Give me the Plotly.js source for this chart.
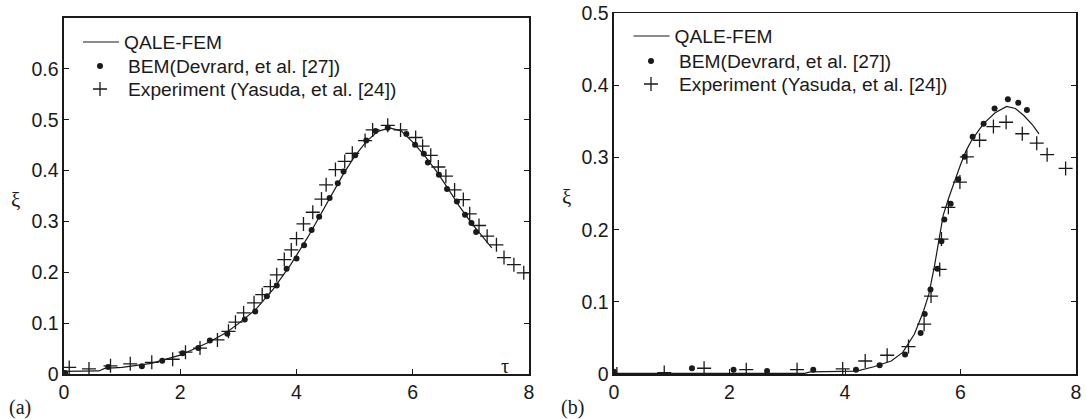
<!DOCTYPE html>
<html>
<head>
<meta charset="utf-8">
<script src="https://cdn.plot.ly/plotly-3.0.1.min.js"></script>
<style>
  html, body { margin: 0; padding: 0; background: #fff; }
  #plot { width: 1086px; height: 419px; }
</style>
</head>
<body>
<div id="plot"></div>
<script>
// ---- Panel (a): free-surface elevation xi versus tau ----
const aFemT = [0, 0.6, 0.7, 1.0, 1.5, 2.0, 2.5, 2.8, 3.0, 3.3, 3.6, 3.9, 4.2, 4.5, 4.8, 5.0, 5.2, 5.4, 5.6, 5.8, 6.0, 6.2, 6.4, 6.6, 6.8, 7.0, 7.2, 7.36];
const aFemXi = [0.005, 0.006, 0.011, 0.013, 0.021, 0.037, 0.063, 0.082, 0.099, 0.127, 0.167, 0.215, 0.270, 0.330, 0.392, 0.428, 0.457, 0.477, 0.484, 0.478, 0.456, 0.430, 0.400, 0.366, 0.330, 0.298, 0.270, 0.248];

const aBemT = [0.02, 0.76, 1.34, 1.69, 2.04, 2.31, 2.51, 2.81, 3.11, 3.29, 3.49, 3.66, 3.83, 4.00, 4.13, 4.26, 4.39, 4.57, 4.71, 4.81, 5.01, 5.20, 5.36, 5.57, 5.89, 6.04, 6.19, 6.26, 6.45, 6.59, 6.76, 6.90, 7.01, 7.09];
const aBemXi = [0.002, 0.014, 0.015, 0.026, 0.041, 0.051, 0.066, 0.079, 0.107, 0.123, 0.153, 0.174, 0.207, 0.227, 0.253, 0.283, 0.309, 0.346, 0.375, 0.398, 0.430, 0.459, 0.478, 0.484, 0.472, 0.451, 0.433, 0.416, 0.392, 0.364, 0.339, 0.313, 0.297, 0.279];

const aExpT = [0.09, 0.43, 0.80, 1.14, 1.51, 1.87, 2.09, 2.34, 2.64, 2.83, 2.95, 3.09, 3.27, 3.41, 3.55, 3.66, 3.79, 3.91, 4.00, 4.12, 4.28, 4.43, 4.51, 4.67, 4.83, 4.96, 5.18, 5.31, 5.57, 5.79, 6.05, 6.17, 6.31, 6.44, 6.57, 6.72, 6.87, 6.98, 7.14, 7.28, 7.44, 7.57, 7.74, 7.91];
const aExpXi = [0.013, 0.010, 0.016, 0.020, 0.023, 0.029, 0.043, 0.051, 0.067, 0.084, 0.102, 0.120, 0.140, 0.156, 0.172, 0.195, 0.225, 0.244, 0.266, 0.295, 0.318, 0.344, 0.372, 0.402, 0.418, 0.434, 0.459, 0.480, 0.489, 0.480, 0.465, 0.448, 0.430, 0.407, 0.389, 0.362, 0.343, 0.315, 0.292, 0.271, 0.254, 0.229, 0.215, 0.199];

// ---- Panel (b) ----
const bFemT = [0, 1.0, 2.0, 3.3, 3.4, 4.2, 4.5, 4.8, 5.0, 5.2, 5.35, 5.45, 5.55, 5.63, 5.7, 5.8, 5.9, 6.0, 6.1, 6.2, 6.4, 6.6, 6.8, 6.95, 7.1, 7.25, 7.36];
const bFemXi = [0.001, 0.001, 0.001, 0.001, 0.003, 0.004, 0.010, 0.018, 0.030, 0.055, 0.085, 0.110, 0.150, 0.190, 0.220, 0.245, 0.268, 0.290, 0.310, 0.325, 0.347, 0.362, 0.371, 0.368, 0.358, 0.345, 0.333];

const bBemT = [0.0, 1.35, 2.07, 2.65, 3.45, 4.19, 4.60, 5.04, 5.31, 5.38, 5.48, 5.60, 5.67, 5.72, 5.83, 5.96, 6.07, 6.21, 6.40, 6.59, 6.82, 7.00, 7.15];
const bBemXi = [0.003, 0.008, 0.006, 0.004, 0.006, 0.006, 0.012, 0.027, 0.057, 0.083, 0.117, 0.146, 0.184, 0.214, 0.236, 0.270, 0.301, 0.329, 0.347, 0.368, 0.381, 0.376, 0.366];

const bExpT = [0.05, 0.87, 1.56, 2.29, 3.17, 3.96, 4.35, 4.73, 5.10, 5.37, 5.49, 5.64, 5.67, 5.79, 5.99, 6.11, 6.33, 6.57, 6.79, 7.07, 7.32, 7.50, 7.82];
const bExpXi = [0.0, 0.002, 0.008, 0.006, 0.006, 0.007, 0.018, 0.026, 0.038, 0.069, 0.108, 0.145, 0.187, 0.231, 0.266, 0.301, 0.324, 0.343, 0.349, 0.333, 0.320, 0.304, 0.285];

// ---- Axis ticks and labels ----
const tauTicks = [0, 2, 4, 6, 8];
const tauLabels = ['0', '2', '4', '6', '8'];
const xiTicksA = [0, 0.1, 0.2, 0.3, 0.4, 0.5, 0.6];
const xiLabelsA = ['0', '0.1', '0.2', '0.3', '0.4', '0.5', '0.6'];
const xiTicksB = [0, 0.1, 0.2, 0.3, 0.4, 0.5];
const xiLabelsB = ['0', '0.1', '0.2', '0.3', '0.4', '0.5'];

const seriesNames = ['QALE-FEM', 'BEM(Devrard, et al. [27])', 'Experiment (Yasuda, et al. [24])'];

const ink = '#1a1a1a';
const sans = 'Liberation Sans, Arial, sans-serif';
const serif = 'Liberation Serif, Times New Roman, serif';

function femTrace(x, y, xa, ya, lg) {
  return { x, y, xaxis: xa, yaxis: ya, type: 'scatter', mode: 'lines',
    name: seriesNames[0], legend: lg, line: { color: ink, width: 1.2 } };
}
function bemTrace(x, y, xa, ya, lg) {
  return { x, y, xaxis: xa, yaxis: ya, type: 'scatter', mode: 'markers',
    name: seriesNames[1], legend: lg, marker: { color: ink, size: 6, symbol: 'circle' } };
}
function expTrace(x, y, xa, ya, lg) {
  return { x, y, xaxis: xa, yaxis: ya, type: 'scatter', mode: 'markers',
    name: seriesNames[2], legend: lg,
    marker: { symbol: 'cross-thin-open', size: 10, color: ink, line: { color: ink, width: 1.3 } } };
}

const data = [
  femTrace(aFemT, aFemXi, 'x', 'y', 'legend'),
  bemTrace(aBemT, aBemXi, 'x', 'y', 'legend2'),
  expTrace(aExpT, aExpXi, 'x', 'y', 'legend3'),
  femTrace(bFemT, bFemXi, 'x2', 'y2', 'legend4'),
  bemTrace(bBemT, bBemXi, 'x2', 'y2', 'legend5'),
  expTrace(bExpT, bExpXi, 'x2', 'y2', 'legend6')
];

const W = 1086, H = 419;
function px(v) { return v / W; }
function py(v) { return 1 - v / H; }

function legendBox(left, rowY, itemW) {
  return { x: px(left), y: py(rowY), xanchor: 'left', yanchor: 'middle',
    bgcolor: 'rgba(0,0,0,0)', borderwidth: 0, itemwidth: itemW,
    font: { family: sans, size: 19.2, color: ink } };
}

function xAxis(dom, anchor) {
  return { domain: dom, anchor: anchor, range: [0, 8], tickvals: tauTicks, ticktext: tauLabels,
    ticks: 'inside', ticklen: 5, tickwidth: 1, tickcolor: ink,
    showline: true, linecolor: ink, linewidth: 1.6, mirror: true,
    showgrid: false, zeroline: false, fixedrange: true,
    tickfont: { family: sans, size: 19.5, color: ink } };
}
function yAxis(dom, anchor, top, vals, labels) {
  return { domain: dom, anchor: anchor, range: [0, top], tickvals: vals, ticktext: labels,
    ticks: 'inside', ticklen: 5, tickwidth: 1, tickcolor: ink,
    showline: true, linecolor: ink, linewidth: 1.6, mirror: 'ticks',
    showgrid: false, zeroline: false, fixedrange: true,
    tickfont: { family: sans, size: 19.5, color: ink } };
}

const layout = {
  width: W, height: H,
  margin: { l: 0, r: 0, t: 0, b: 0 },
  paper_bgcolor: '#fff', plot_bgcolor: '#fff',
  showlegend: true,
  xaxis: xAxis([px(64), px(529)], 'y'),
  yaxis: yAxis([1 - 374 / H, 1 - 18 / H], 'x', 0.7, xiTicksA, xiLabelsA),
  xaxis2: xAxis([px(614), px(1076)], 'y2'),
  yaxis2: yAxis([1 - 374 / H, 1 - 13.3 / H], 'x2', 0.5, xiTicksB, xiLabelsB),
  legend: legendBox(78, 42, 36),
  legend2: legendBox(72, 66, 46),
  legend3: legendBox(72, 89, 46),
  legend4: legendBox(628.5, 36, 36),
  legend5: legendBox(623, 61, 46),
  legend6: legendBox(623, 84, 46),
  annotations: [
    { text: 'ξ', xref: 'paper', yref: 'paper', x: px(15), y: py(200), showarrow: false,
      xanchor: 'center', yanchor: 'middle', font: { family: serif, size: 21, color: ink } },
    { text: 'ξ', xref: 'paper', yref: 'paper', x: px(566), y: py(197), showarrow: false,
      xanchor: 'center', yanchor: 'middle', font: { family: serif, size: 21, color: ink } },
    { text: 'τ', xref: 'x', yref: 'y', x: 7.59, y: 0.016, showarrow: false,
      xanchor: 'center', yanchor: 'middle', font: { family: serif, size: 20, color: ink } },
    { text: '(a)', xref: 'paper', yref: 'paper', x: px(7), y: py(407), showarrow: false,
      xanchor: 'left', yanchor: 'middle', font: { family: serif, size: 20, color: ink } },
    { text: '(b)', xref: 'paper', yref: 'paper', x: px(559), y: py(407), showarrow: false,
      xanchor: 'left', yanchor: 'middle', font: { family: serif, size: 20, color: ink } }
  ]
};

Plotly.newPlot('plot', data, layout, { staticPlot: true, displayModeBar: false });
</script>
</body>
</html>
